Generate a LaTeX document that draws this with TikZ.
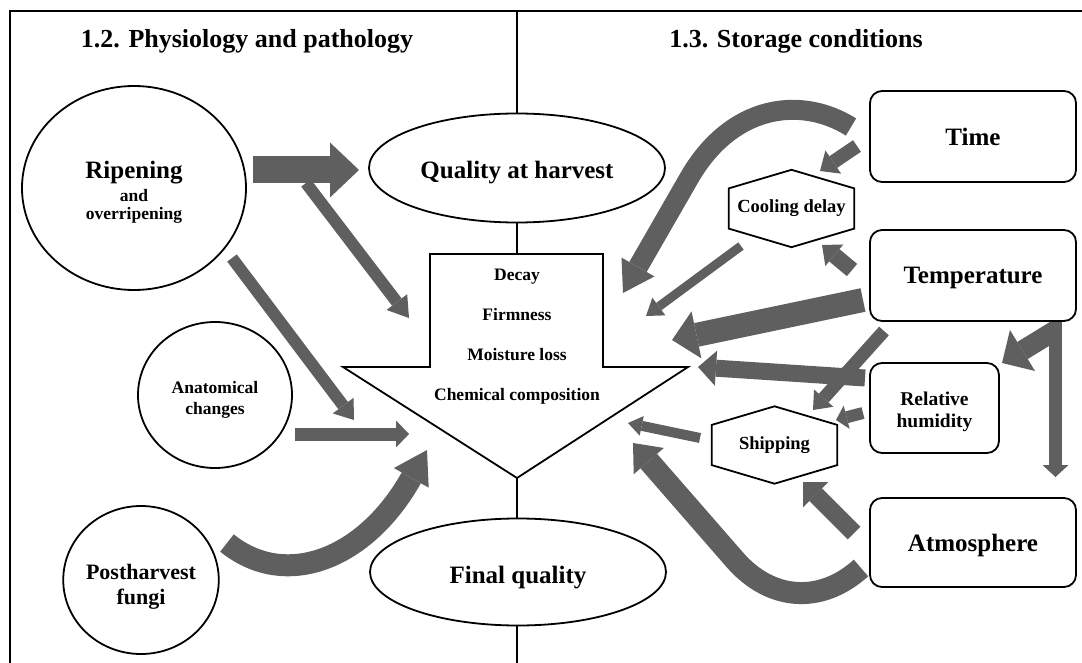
\documentclass[tikz,border=0pt]{standalone}
\usepackage{fontspec}
\setmainfont{Liberation Serif}
\usepackage{tikz}
\usetikzlibrary{arrows.meta,positioning,shapes.geometric,calc}
\definecolor{arrowgray}{RGB}{95,95,95}

\newcommand{\topstrut}[1]{\rule{0pt}{#1}}
\newcommand{\hexborder}[1]{%
  \draw[line width=1.8pt] (#1.north)
    -- ($(#1.north east)!0.24!(#1.south east)$)
    -- ($(#1.north east)!0.76!(#1.south east)$)
    -- (#1.south)
    -- ($(#1.north west)!0.76!(#1.south west)$)
    -- ($(#1.north west)!0.24!(#1.south west)$) -- cycle;}

\begin{document}
\begin{tikzpicture}[x=1pt,y=-1pt,
      round_node/.style={
         ellipse,
         draw=black,
         line width=1.8pt,
         inner sep=0pt,
         align=center,
         font=\bfseries},
      box_node/.style={
         rectangle,
         rounded corners=12pt,
         draw=black,
         line width=1.8pt,
         minimum width=206pt,
         minimum height=91pt,
         align=center,
         text depth=0pt,
         font=\bfseries\fontsize{25}{28}\selectfont},
      hex_node/.style={
         inner sep=0pt,
         minimum width=125pt,
         minimum height=77pt,
         font=\bfseries\fontsize{18.5}{21}\selectfont},
      title_node/.style={
         font=\bfseries\fontsize{26}{30}\selectfont},
      arrow_gray/.style n args={3}{
         draw=arrowgray,
         line width=#1,
         -{Triangle[width=#2,length=#3,line width=0pt]}},
      edge_line/.style={line width=1.8pt},
      frame_line/.style={line width=2.4pt}
]
      \useasboundingbox (0,0) rectangle (1082,663);

      %frame and titles
      \draw[frame_line] (10,663) |- (1082,11);
      \node[title_node] (title_l) at (247,41) {1.2. Physiology and pathology};
      \node[title_node] (title_r) at (796,41) {1.3. Storage conditions};

      %physiology and pathology
      \node[round_node,minimum width=224pt,minimum height=204pt,
            font=\bfseries\fontsize{17.5}{19}\selectfont] (ripe) at (134,188)
            {\topstrut{25pt}{\fontsize{25}{28}\selectfont Ripening}\\[4pt]and\\[-1pt]overripening};
      \node[round_node,minimum width=154pt,minimum height=146pt,
            font=\bfseries\fontsize{17.5}{21}\selectfont] (anat) at (215,395)
            {\topstrut{21pt}Anatomical\\changes};
      \node[round_node,minimum width=155pt,minimum height=148pt,
            font=\bfseries\fontsize{22}{25}\selectfont] (fungi) at (141,580)
            {\topstrut{29pt}Postharvest\\fungi};

      %quality
      \node[round_node,minimum width=296pt,minimum height=109pt,text height=22pt,text depth=0pt,
            font=\bfseries\fontsize{25}{28}\selectfont] (qharv) at (517,168) {Quality at harvest};
      \node[round_node,minimum width=296pt,minimum height=107pt,text height=22pt,text depth=0pt,
            font=\bfseries\fontsize{25}{28}\selectfont] (fqual) at (518,572) {Final quality};
      \draw[edge_line] (430,254) -- (603,254) -- (603,367) -- (688,367)
            -- (517,478) -- (343,367) -- (430,367) -- cycle;
      \node[align=center,font=\bfseries\fontsize{17.5}{40}\selectfont] (props) at (517,337)
            {Decay\\Firmness\\Moisture loss\\Chemical composition};
      \draw[edge_line] (517,11) -- (qharv.north);
      \draw[edge_line] (qharv.south) -- (517,254);
      \draw[edge_line] (517,478) -- (517,518);
      \draw[edge_line] (517,626) -- (517,663);

      %storage conditions
      \node[box_node] (time) at (973,136.5) {Time};
      \node[box_node] (temp) at (973,275.5) {Temperature};
      \node[box_node,minimum width=129pt,minimum height=90pt,
            font=\bfseries\fontsize{19.5}{22}\selectfont] (relhum) at (934.5,408)
            {\topstrut{16pt}Relative\\humidity};
      \node[box_node,minimum height=89pt] (atmos) at (973,542.5) {Atmosphere};
      \node[hex_node] (cool) at (791.5,208.5) {Cooling delay};
      \node[hex_node] (ship) at (774.5,445) {Shipping};
      \hexborder{cool}
      \hexborder{ship}

      %arrow ends
      \coordinate (rq_s) at (253,170);    \coordinate (rq_e) at (359,170);
      \coordinate (rp_s) at (306,183);    \coordinate (rp_e) at (409,318);
      \coordinate (ra_s) at (232,258);    \coordinate (ra_e) at (354,420);
      \coordinate (an_s) at (295,434);    \coordinate (an_e) at (409,434);
      \coordinate (fc_s) at (227,543);    \coordinate (fc_e) at (427,450);
      \coordinate (tq_s) at (851,127);    \coordinate (tq_e) at (623,293);
      \coordinate (tc_s) at (857,146);    \coordinate (tc_e) at (820,171);
      \coordinate (cp_s) at (741,246);    \coordinate (cp_e) at (646,316);
      \coordinate (tcd_s) at (852,270);   \coordinate (tcd_e) at (822,245);
      \coordinate (tp_s) at (863,300);    \coordinate (tp_e) at (672,340);
      \coordinate (rhp_s) at (865,378);   \coordinate (rhp_e) at (698,367);
      \coordinate (ts_s) at (884,331);    \coordinate (ts_e) at (813,410);
      \coordinate (rhs_s) at (863,413);   \coordinate (rhs_e) at (836,420);
      \coordinate (sp_s) at (700,438);    \coordinate (sp_e) at (628,423);
      \coordinate (as_s) at (854,533);    \coordinate (as_e) at (803,482);
      \coordinate (au_s) at (861,568);    \coordinate (au_e) at (633,443);
      \coordinate (tv_s) at (1055.5,322); \coordinate (tv_e) at (1055.5,477);
      \coordinate (trh_s) at (1056,330);  \coordinate (trh_e) at (1002,363);

      \foreach \i/\j/\w/\hw/\hl in {% start/end/shaft/head width/head length
        rp_s/rp_e/12/26/20,
        rq_s/rq_e/27/55/29,
        ra_s/ra_e/12/26/18,
        an_s/an_e/13/27/13,
        tc_s/tc_e/14/28/16,
        cp_s/cp_e/9/22/16,
        tcd_s/tcd_e/16/28/16,
        tp_s/tp_e/24/48/25,
        rhp_s/rhp_e/17/35/18,
        ts_s/ts_e/13/26/16,
        rhs_s/rhs_e/12/24/11,
        sp_s/sp_e/10/20/14,
        as_s/as_e/18/36/18,
        tv_s/tv_e/13/26/12,
        trh_s/trh_e/20/48/24}
        \draw[arrow_gray={\w pt}{\hw pt}{\hl pt}] (\i) -- (\j);

      \draw[arrow_gray={22pt}{40pt}{32pt}] (fc_s) .. controls (285,590) and (365,560) .. (fc_e);
      \draw[arrow_gray={20pt}{38pt}{30pt}] (tq_s) .. controls (800,95) and (730,105) .. (688,180) -- (tq_e);
      \draw[arrow_gray={22pt}{40pt}{24pt}] (au_s) .. controls (820,605) and (770,600) .. (735,560) -- (au_e);

\end{tikzpicture}
\end{document}
